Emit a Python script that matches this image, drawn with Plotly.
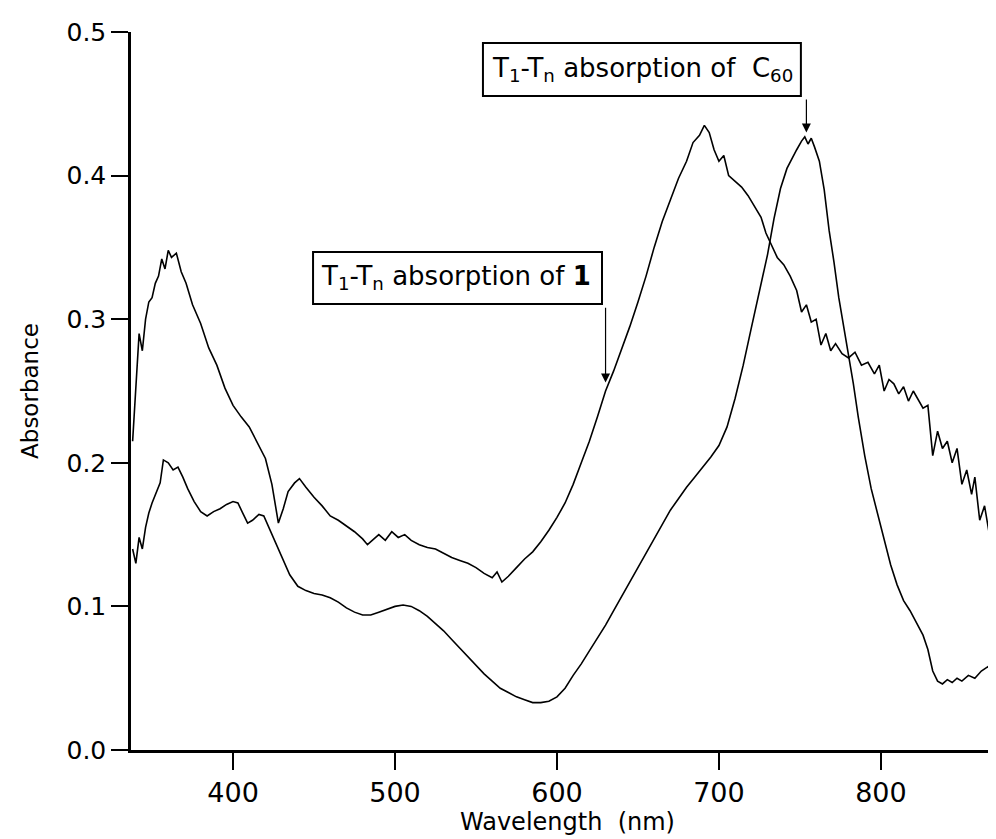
import plotly.graph_objects as go

# ---- data ----
wl_1 = [338, 340, 342, 344, 346, 348, 350, 352, 354, 356, 358, 360, 362, 365, 368, 371, 375, 380, 385, 390,
        395, 400, 405, 410, 415, 420, 424, 428, 431, 434, 438, 441, 445, 450, 455, 460, 465, 470, 475, 480,
        483, 487, 490, 494, 498, 502, 506, 510, 515, 520, 525, 530, 535, 540, 545, 550, 555, 560, 563, 566,
        570, 575, 580, 585, 590, 595, 600, 605, 610, 615, 620, 625, 630, 635, 640, 645, 650, 655, 660, 665,
        670, 675, 680, 684, 688, 691, 694, 697, 700, 703, 706, 710, 714, 718, 722, 726, 729, 732, 736, 740,
        744, 748, 751, 754, 757, 760, 763, 766, 769, 772, 776, 780, 784, 788, 792, 796, 799, 802, 805, 808,
        811, 814, 817, 820, 823, 826, 829, 832, 835, 838, 841, 844, 847, 850, 853, 856, 858, 861, 864, 867,
        870, 873, 875]
abs_1 = [0.215, 0.255, 0.290, 0.278, 0.300, 0.312, 0.315, 0.325, 0.330, 0.342, 0.335, 0.348, 0.343, 0.346, 0.333, 0.325, 0.310, 0.297, 0.280, 0.268,
         0.252, 0.240, 0.232, 0.225, 0.214, 0.203, 0.185, 0.158, 0.168, 0.180, 0.186, 0.189, 0.183, 0.176, 0.170, 0.163, 0.160, 0.156, 0.152, 0.147,
         0.143, 0.147, 0.150, 0.146, 0.152, 0.148, 0.150, 0.146, 0.143, 0.141, 0.140, 0.137, 0.134, 0.132, 0.130, 0.127, 0.123, 0.120, 0.124, 0.117,
         0.121, 0.127, 0.133, 0.138, 0.145, 0.153, 0.162, 0.172, 0.185, 0.200, 0.215, 0.232, 0.250, 0.264, 0.279, 0.295, 0.312, 0.330, 0.350, 0.368,
         0.383, 0.398, 0.410, 0.423, 0.428, 0.435, 0.430, 0.418, 0.410, 0.414, 0.400, 0.396, 0.392, 0.386, 0.378, 0.371, 0.360, 0.353, 0.343, 0.338,
         0.330, 0.320, 0.305, 0.310, 0.298, 0.300, 0.282, 0.290, 0.278, 0.283, 0.276, 0.273, 0.277, 0.268, 0.270, 0.262, 0.268, 0.250, 0.258, 0.255,
         0.248, 0.253, 0.243, 0.250, 0.244, 0.238, 0.240, 0.205, 0.222, 0.210, 0.215, 0.200, 0.210, 0.185, 0.195, 0.178, 0.190, 0.160, 0.170, 0.150,
         0.145, 0.140, 0.142]

wl_c60 = [338, 340, 342, 344, 346, 348, 350, 352, 355, 357, 360, 363, 366, 369, 372, 376, 380, 384, 388, 392,
          396, 400, 403, 406, 409, 412, 416, 419, 423, 427, 431, 435, 440, 445, 450, 455, 460, 465, 470, 475,
          480, 485, 490, 495, 500, 505, 510, 515, 520, 525, 530, 535, 540, 545, 550, 555, 560, 565, 570, 575,
          580, 585, 590, 595, 600, 605, 610, 615, 620, 625, 630, 635, 640, 645, 650, 655, 660, 665, 670, 675,
          680, 685, 690, 695, 700, 705, 710, 715, 720, 725, 730, 734, 738, 742, 745, 748, 751, 753, 755, 757,
          759, 762, 765, 768, 771, 774, 777, 780, 783, 786, 790, 794, 798, 802, 806, 810, 814, 818, 822, 826,
          829, 832, 835, 838, 841, 844, 847, 850, 854, 858, 862, 866, 870, 875]
abs_c60 = [0.140, 0.130, 0.148, 0.140, 0.155, 0.165, 0.172, 0.178, 0.186, 0.202, 0.200, 0.195, 0.197, 0.190, 0.182, 0.173, 0.166, 0.163, 0.166, 0.168,
           0.171, 0.173, 0.172, 0.165, 0.158, 0.160, 0.164, 0.163, 0.153, 0.142, 0.132, 0.122, 0.114, 0.111, 0.109, 0.108, 0.106, 0.103, 0.099, 0.096,
           0.094, 0.094, 0.096, 0.098, 0.100, 0.101, 0.100, 0.097, 0.093, 0.088, 0.083, 0.077, 0.071, 0.065, 0.059, 0.053, 0.048, 0.043, 0.040, 0.037,
           0.035, 0.033, 0.033, 0.034, 0.037, 0.043, 0.052, 0.060, 0.069, 0.078, 0.087, 0.097, 0.107, 0.117, 0.127, 0.137, 0.147, 0.157, 0.167, 0.175,
           0.183, 0.190, 0.197, 0.204, 0.212, 0.225, 0.245, 0.268, 0.294, 0.320, 0.345, 0.370, 0.391, 0.405, 0.412, 0.418, 0.424, 0.427, 0.422, 0.426,
           0.420, 0.410, 0.390, 0.362, 0.340, 0.315, 0.295, 0.276, 0.255, 0.232, 0.205, 0.182, 0.164, 0.146, 0.129, 0.115, 0.104, 0.097, 0.089, 0.080,
           0.070, 0.055, 0.048, 0.046, 0.049, 0.047, 0.050, 0.048, 0.052, 0.050, 0.055, 0.058, 0.053, 0.060]

x_ticks = [400, 500, 600, 700, 800]
y_ticks = [0.0, 0.1, 0.2, 0.3, 0.4, 0.5]
y_tick_text = ["0.0", "0.1", "0.2", "0.3", "0.4", "0.5"]

label_1 = "T<sub>1</sub>-T<sub>n</sub> absorption of <b>1</b>"
label_c60 = "T<sub>1</sub>-T<sub>n</sub> absorption of&nbsp;&nbsp;C<sub>60</sub>"

FONT = "DejaVu Sans, Liberation Sans, sans-serif"

fig = go.Figure()
fig.add_trace(go.Scatter(x=wl_1, y=abs_1, mode="lines",
                         line=dict(color="black", width=1.6), showlegend=False))
fig.add_trace(go.Scatter(x=wl_c60, y=abs_c60, mode="lines",
                         line=dict(color="black", width=1.6), showlegend=False))

# label boxes
fig.add_shape(type="rect", xref="x", yref="y", x0=449.4, x1=627.8, y0=0.3106, y1=0.3468,
              line=dict(color="black", width=2), fillcolor="white", layer="above")
fig.add_shape(type="rect", xref="x", yref="y", x0=554.3, x1=750.6, y0=0.4554, y1=0.4923,
              line=dict(color="black", width=2), fillcolor="white", layer="above")

fig.add_annotation(x=537.8, y=0.3287, xref="x", yref="y", showarrow=False, text=label_1,
                   font=dict(family=FONT, size=26, color="black"), xanchor="center", yanchor="middle")
fig.add_annotation(x=652.5, y=0.4738, xref="x", yref="y", showarrow=False, text=label_c60,
                   font=dict(family=FONT, size=26, color="black"), xanchor="center", yanchor="middle")

# arrows
fig.add_annotation(x=630, y=0.256, ax=630, ay=0.309, xref="x", yref="y", axref="x", ayref="y",
                   text="", showarrow=True, arrowhead=2, arrowsize=1.5, arrowwidth=1.2, arrowcolor="black")
fig.add_annotation(x=754, y=0.430, ax=754, ay=0.454, xref="x", yref="y", axref="x", ayref="y",
                   text="", showarrow=True, arrowhead=2, arrowsize=1.5, arrowwidth=1.2, arrowcolor="black")

fig.update_xaxes(range=[337, 876], tickvals=x_ticks, ticks="outside", ticklen=17, tickwidth=1.5,
                 tickcolor="black", showline=True, linecolor="black", linewidth=2.5,
                 showgrid=False, zeroline=False,
                 tickfont=dict(family=FONT, size=27, color="black"),
                 title=dict(text="Wavelength  (nm)", font=dict(family=FONT, size=24, color="black"), standoff=4))
fig.update_yaxes(range=[0, 0.5], tickvals=y_ticks, ticktext=y_tick_text, ticks="outside", ticklen=17,
                 tickwidth=2, tickcolor="black", showline=True, linecolor="black", linewidth=2.5,
                 showgrid=False, zeroline=False,
                 tickfont=dict(family=FONT, size=25, color="black"),
                 title=dict(text="Absorbance", font=dict(family=FONT, size=23, color="black"), standoff=22))

fig.update_layout(width=996, height=839, plot_bgcolor="white", paper_bgcolor="white",
                  margin=dict(l=123, r=0, t=24, b=97))

fig.write_html("out.html")
